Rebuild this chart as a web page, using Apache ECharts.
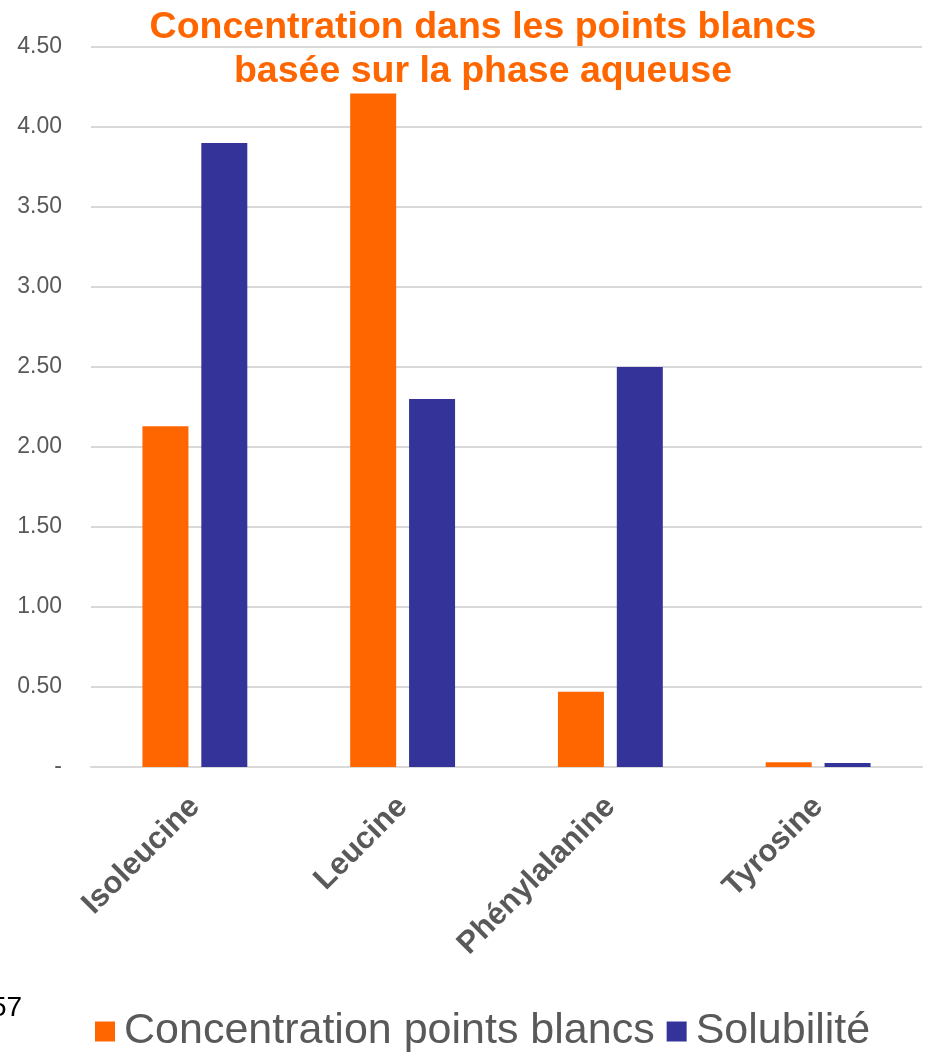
<!DOCTYPE html>
<html>
<head>
<meta charset="utf-8">
<script src="https://cdn.jsdelivr.net/npm/echarts@6/dist/echarts.min.js"></script>
<style>html,body{margin:0;padding:0;background:#fff}#c{width:928px;height:1052px}</style>
</head>
<body>
<div id="c"></div>
<script>
const categories = ['Isoleucine', 'Leucine', 'Phénylalanine', 'Tyrosine'];
const concentration = [2.13, 4.21, 0.47, 0.03];
const solubilite = [3.90, 2.30, 2.50, 0.025];
const seriesNames = ['Concentration points blancs', 'Solubilité'];
const titleLines = ['Concentration dans les points blancs', 'basée sur la phase aqueuse'];

const chart = echarts.init(document.getElementById('c'));
chart.setOption({
  animation: false,
  backgroundColor: '#fff',
  title: {
    text: titleLines.join('\n'),
    left: 478,
    top: 1,
    textAlign: 'center',
    textStyle: { fontFamily: 'Liberation Sans, Arial, sans-serif', fontWeight: 'bold', fontSize: 37.5, color: '#FF6600', lineHeight: 44 }
  },
  graphic: [{ type: 'text', left: -9, top: 994, style: { text: '57', fontFamily: 'Liberation Sans, Arial, sans-serif', fontSize: 28, fill: '#000' } }],
  legend: {
    top: 1005,
    left: 90,
    itemWidth: 20, itemHeight: 20, itemGap: 12,
    icon: 'rect',
    textStyle: { fontFamily: 'Liberation Sans, Arial, sans-serif', fontSize: 43, color: '#595959', padding: [0, 0, 0, 4] },
    data: seriesNames
  },
  grid: { left: 91, right: 6, top: 47, bottom: 285 },
  xAxis: {
    type: 'category',
    data: categories,
    axisTick: { show: false },
    axisLine: { lineStyle: { color: '#D9D9D9', width: 2 } },
    axisLabel: { rotate: 45, margin: 35, interval: 0, fontFamily: 'Liberation Sans, Arial, sans-serif', fontWeight: 'bold', fontSize: 31, color: '#595959' }
  },
  yAxis: {
    type: 'value', min: 0, max: 4.5, interval: 0.5,
    axisLine: { show: false }, axisTick: { show: false },
    splitLine: { lineStyle: { color: '#D9D9D9', width: 2 } },
    axisLabel: {
      margin: 29, fontFamily: 'Liberation Sans, Arial, sans-serif', fontSize: 23, color: '#595959',
      formatter: v => v === 0 ? '-' : v.toFixed(2)
    }
  },
  series: [
    { name: seriesNames[0], type: 'bar', data: concentration, barWidth: 46, barGap: '28%', itemStyle: { color: '#FF6600' } },
    { name: seriesNames[1], type: 'bar', data: solubilite, barWidth: 46, itemStyle: { color: '#333399' } }
  ]
});
</script>
</body>
</html>
